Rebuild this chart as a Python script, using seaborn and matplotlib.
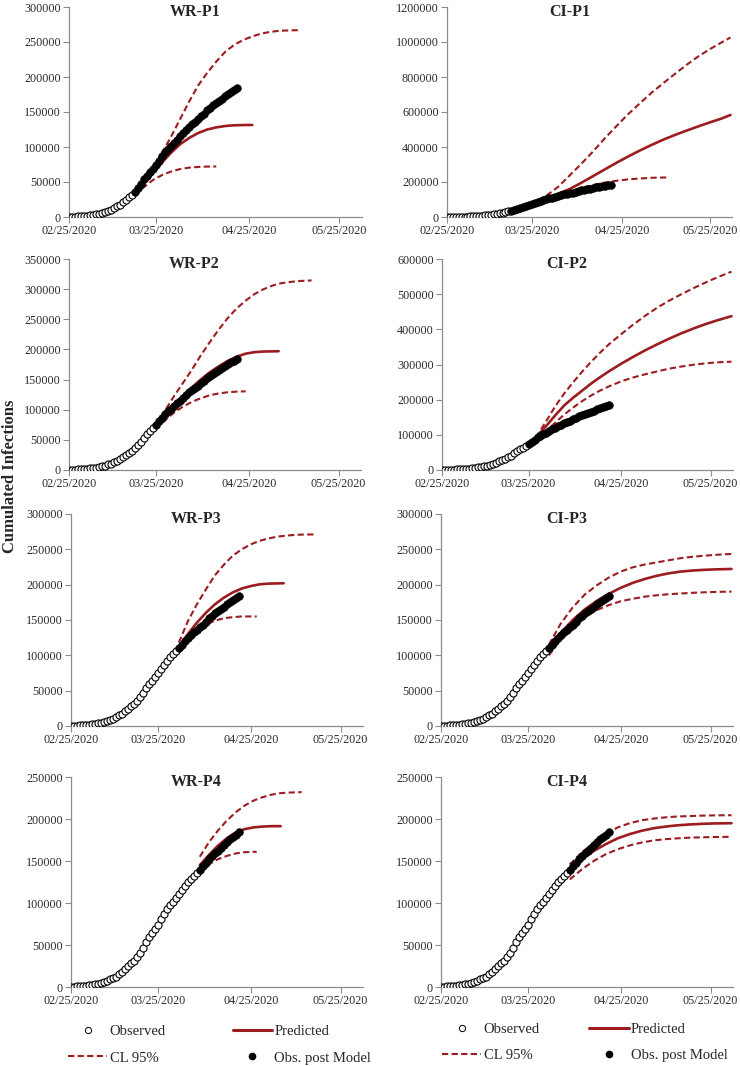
import pandas as pd
import numpy as np
import matplotlib
matplotlib.use('Agg')
import matplotlib.pyplot as plt
import matplotlib.dates as mdates
from matplotlib.ticker import StrMethodFormatter
from matplotlib.lines import Line2D
import seaborn as sns

# observed cumulative infections, one value per day from 02/25/2020 to 04/21/2020
OBS = [322, 400, 650, 888, 1128,
       1694, 2036, 2502, 3089, 3858, 4636, 5883, 7375, 9172, 10149,
       12462, 15113, 17660, 21157, 24747, 27980, 31506, 35713, 41035, 47021,
       53578, 59138, 63927, 69176, 74386, 80539, 86498, 92472, 97689, 101739,
       105792,
       110574, 115242, 119827, 124632, 128948, 132547, 135586, 139422, 143626, 147577,
       152271, 156363, 159516, 162488, 165155, 168941, 172434, 175925, 178972, 181228,
       183957]

# model curves: days after 02/25/2020 and values
WR1_PRED_DAYS = [22, 25, 28, 31, 34, 37, 40, 43, 46, 49, 52, 55, 58, 61]
WR1_PRED = [33000, 48000, 63000, 78000, 92000, 104000, 113000, 120000, 125000, 128000, 130000, 131000, 131400, 131500]
WR1_UP_DAYS = [22, 25, 28, 31, 34, 37, 40, 43, 46, 49, 52, 55, 58, 61, 64, 67, 70, 73, 77]
WR1_UP = [34000, 50000, 70000, 92000, 115000, 140000, 165000, 188000, 206000, 222000, 236000, 246000, 253000, 258000, 262000, 264500, 266000, 266500, 267000]
WR1_LO_DAYS = [22, 25, 28, 31, 34, 37, 40, 43, 46, 49]
WR1_LO = [31000, 43000, 53000, 60000, 65000, 68500, 70500, 71500, 72000, 72200]

CI1_DAYS = [22, 26, 30, 34, 38, 42, 46, 50, 54, 58, 62, 66, 70, 74, 78, 82, 86, 90, 94, 97]
CI1_UP = [36000, 55000, 85000, 122000, 172000, 238000, 305000, 375000, 450000, 520000, 588000, 650000, 710000, 765000, 818000, 870000, 918000, 960000, 998000, 1026000]
CI1_PRED = [36000, 56000, 82000, 108000, 133000, 160000, 196000, 234000, 272000, 310000, 346000, 380000, 412000, 442000, 469000, 494000, 518000, 541000, 563000, 583000]
CI1_LO_DAYS = [22, 26, 30, 34, 38, 42, 46, 50, 54, 58, 62, 66, 70, 75]
CI1_LO = [35000, 52000, 76000, 100000, 124000, 146000, 166000, 183000, 197000, 207000, 215000, 220000, 224000, 226000]

WR2_UP_DAYS = [29, 32, 35, 38, 41, 44, 47, 50, 53, 56, 59, 62, 65, 68, 71, 74, 77, 81]
WR2_UP = [75000, 98000, 122000, 144000, 166000, 190000, 212000, 233000, 252000, 268000, 281000, 292000, 300000, 306000, 310000, 312000, 313500, 314500]
WR2_PRED_DAYS = [29, 32, 35, 38, 41, 44, 47, 50, 53, 56, 59, 62, 65, 70]
WR2_PRED = [74000, 90000, 106000, 122000, 137000, 150000, 162000, 172000, 181000, 188000, 193000, 195500, 196500, 197000]
WR2_LO_DAYS = [29, 32, 35, 38, 41, 44, 47, 50, 53, 56, 59]
WR2_LO = [68000, 82000, 95000, 105000, 113000, 119000, 124000, 127000, 129000, 130000, 130500]

CI2_DAYS = [29, 32, 35, 38, 41, 44, 47, 50, 53, 56, 60, 64, 68, 72, 76, 80, 84, 88, 92, 97]
CI2_UP = [75000, 100000, 140000, 182000, 218000, 250000, 280000, 308000, 334000, 358000, 386000, 413000, 438000, 461000, 481000, 499000, 516000, 532000, 547000, 564000]
CI2_PRED = [75000, 98000, 126000, 156000, 184000, 206000, 226000, 246000, 264000, 281000, 302000, 321500, 340000, 357000, 373000, 388000, 401500, 414000, 425000, 437500]
CI2_LO = [74000, 90000, 112000, 135000, 158000, 178000, 196000, 212000, 226000, 238000, 252000, 263000, 272000, 280000, 288000, 294000, 299000, 303000, 306000, 308000]

WR3_UP_DAYS = [36, 39, 42, 45, 48, 51, 54, 57, 60, 63, 66, 69, 72, 75, 78, 81]
WR3_UP = [118000, 148000, 172000, 193000, 213000, 228000, 241000, 250000, 257000, 262000, 265500, 268000, 269500, 270500, 271000, 271000]
WR3_PRED_DAYS = [36, 39, 42, 45, 48, 51, 54, 57, 60, 63, 66, 71]
WR3_PRED = [112000, 130000, 146000, 160000, 172000, 181500, 189000, 194500, 198000, 200500, 201500, 202000]
WR3_LO_DAYS = [36, 39, 42, 45, 48, 51, 54, 57, 62]
WR3_LO = [110000, 124000, 135000, 143000, 149000, 152500, 154000, 155000, 155000]

CI3_DAYS = [36, 40, 44, 48, 52, 56, 60, 64, 68, 72, 76, 80, 84, 88, 92, 97]
CI3_UP = [115000, 145000, 168000, 186000, 199000, 210000, 218500, 224500, 228500, 231500, 234500, 237500, 239500, 241000, 242300, 243500]
CI3_PRED = [110000, 132000, 150000, 165000, 177000, 187000, 195500, 202500, 208000, 212500, 216000, 218500, 220000, 221000, 221700, 222200]
CI3_LO = [100000, 122000, 140000, 154000, 164000, 171000, 176500, 180000, 183000, 185000, 186500, 187500, 188500, 189200, 189800, 190200]

WR4_UP_DAYS = [43, 46, 49, 52, 55, 58, 61, 64, 67, 70, 73, 77]
WR4_UP = [155000, 172000, 186000, 198000, 208000, 216000, 222000, 226000, 229000, 230800, 231500, 232000]
WR4_PRED_DAYS = [43, 46, 49, 52, 55, 58, 61, 64, 67, 70]
WR4_PRED = [145000, 157000, 168000, 177000, 184000, 188000, 190000, 191000, 191500, 191500]
WR4_LO_DAYS = [43, 46, 49, 52, 55, 58, 62]
WR4_LO = [138000, 146000, 152000, 156000, 159000, 160500, 161000]

CI4_DAYS = [43, 47, 51, 55, 59, 63, 67, 71, 75, 79, 83, 87, 91, 97]
CI4_UP = [146000, 160000, 172000, 182000, 190000, 195000, 198500, 200500, 202000, 203000, 203500, 204000, 204300, 204500]
CI4_PRED = [141000, 152000, 162000, 170000, 177000, 182000, 186000, 189000, 191000, 192500, 193500, 194200, 194700, 195000]
CI4_LO = [128000, 140000, 150000, 158000, 164000, 168500, 172000, 174500, 176000, 177000, 177800, 178200, 178500, 178800]

sns.set_style('ticks')
plt.rcParams['font.family'] = ['Liberation Serif', 'DejaVu Serif']

RED = '#9C1C20'
GREY = '#8C8C8C'
DASH = (0, (3, 1.6))
START = pd.Timestamp('2020-02-25')
W, H = 740, 1066


def to_dates(days):
    return START + pd.to_timedelta(np.asarray(days), unit='D')


def draw_panel(rect, title, cut, pred, up, lo, ymax, ystep):
    # rect en pixeles: izquierda, arriba, derecha, abajo
    x0, top, x1, bottom = rect
    ax = fig.add_axes([x0 / W, 1 - bottom / H, (x1 - x0) / W, (bottom - top) / H])

    # curvas del modelo
    for (days, vals), ls, lw in [(up, DASH, 1.5), (lo, DASH, 1.5), (pred, '-', 1.9)]:
        sns.lineplot(x=to_dates(days), y=vals, ax=ax, color=RED, linestyle=ls, lw=lw, zorder=2)

    # observaciones
    obs = pd.DataFrame({'date': to_dates(range(len(OBS))), 'cases': OBS})
    before = obs.iloc[:cut]
    after = obs.iloc[cut:]
    sns.scatterplot(data=before, x='date', y='cases', ax=ax, marker='o', s=26,
                    facecolor='white', edgecolor='black', linewidth=0.8, zorder=3)
    sns.scatterplot(data=after, x='date', y='cases', ax=ax, marker='o', s=30,
                    color='black', edgecolor='black', linewidth=0.5, zorder=4)

    ax.set_xlim(START, START + pd.Timedelta(days=97.5))
    ax.set_ylim(0, ymax)
    ax.set_yticks(np.arange(0, ymax + 1, ystep))
    ax.yaxis.set_major_formatter(StrMethodFormatter('{x:.0f}'))
    ax.set_xticks(pd.to_datetime(['2020-02-25', '2020-03-25', '2020-04-25', '2020-05-25']))
    ax.xaxis.set_major_formatter(mdates.DateFormatter('%m/%d/%Y'))
    ax.set_xlabel('')
    ax.set_ylabel('')
    ax.grid(False)

    sns.despine(ax=ax)
    for side in ['left', 'bottom']:
        ax.spines[side].set_color(GREY)
        ax.spines[side].set_linewidth(0.9)
    ax.tick_params(direction='out', length=4, width=0.8, color=GREY,
                   labelsize=8.7, labelcolor='#2b2b2b', pad=2)
    ax.text(0.43, 0.975, title, transform=ax.transAxes, ha='center', va='center',
            fontsize=11.5, fontweight='bold')
    return ax


fig = plt.figure(figsize=(W / 100, H / 100), dpi=100)

rows = [(7, 217), (259, 470), (514, 726), (777, 987)]

draw_panel((69, rows[0][0], 362, rows[0][1]), 'WR-P1', 22,
           (WR1_PRED_DAYS, WR1_PRED), (WR1_UP_DAYS, WR1_UP), (WR1_LO_DAYS, WR1_LO), 300000, 50000)
draw_panel((447, rows[0][0], 732, rows[0][1]), 'CI-P1', 22,
           (CI1_DAYS, CI1_PRED), (CI1_DAYS, CI1_UP), (CI1_LO_DAYS, CI1_LO), 1200000, 200000)

draw_panel((69, rows[1][0], 361, rows[1][1]), 'WR-P2', 29,
           (WR2_PRED_DAYS, WR2_PRED), (WR2_UP_DAYS, WR2_UP), (WR2_LO_DAYS, WR2_LO), 350000, 50000)
draw_panel((442, rows[1][0], 733, rows[1][1]), 'CI-P2', 29,
           (CI2_DAYS, CI2_PRED), (CI2_DAYS, CI2_UP), (CI2_DAYS, CI2_LO), 600000, 100000)

draw_panel((71, rows[2][0], 363, rows[2][1]), 'WR-P3', 36,
           (WR3_PRED_DAYS, WR3_PRED), (WR3_UP_DAYS, WR3_UP), (WR3_LO_DAYS, WR3_LO), 300000, 50000)
draw_panel((441, rows[2][0], 733, rows[2][1]), 'CI-P3', 36,
           (CI3_DAYS, CI3_PRED), (CI3_DAYS, CI3_UP), (CI3_DAYS, CI3_LO), 300000, 50000)

draw_panel((71, rows[3][0], 363, rows[3][1]), 'WR-P4', 43,
           (WR4_PRED_DAYS, WR4_PRED), (WR4_UP_DAYS, WR4_UP), (WR4_LO_DAYS, WR4_LO), 250000, 50000)
draw_panel((441, rows[3][0], 733, rows[3][1]), 'CI-P4', 43,
           (CI4_DAYS, CI4_PRED), (CI4_DAYS, CI4_UP), (CI4_DAYS, CI4_LO), 250000, 50000)

fig.text(10 / W, 1 - 476 / H, 'Cumulated Infections', rotation=90, ha='center', va='center',
         fontsize=12, fontweight='bold')

# leyendas debajo de cada columna
handles = [
    Line2D([], [], marker='o', linestyle='none', markersize=4.5, markerfacecolor='white',
           markeredgecolor='black', markeredgewidth=0.7),
    Line2D([], [], color=RED, linestyle=DASH, lw=1.5),
    Line2D([], [], color=RED, lw=2.2),
    Line2D([], [], marker='o', linestyle='none', markersize=4.5, color='black'),
]
labels = ['Observed', 'CL 95%', 'Predicted', 'Obs. post Model']

for x, y, colsp, lsp in [(68, 1025, 4.6, 0.9), (442, 1023, 3.4, 0.85)]:
    fig.legend(handles, labels, loc='upper left', bbox_to_anchor=(x / W, 1 - y / H), ncol=2,
               frameon=False, fontsize=10.5, handlelength=2.7, handletextpad=0.15,
               columnspacing=colsp, labelspacing=lsp, borderpad=0, borderaxespad=0)

fig.savefig('out.png', dpi=100)
